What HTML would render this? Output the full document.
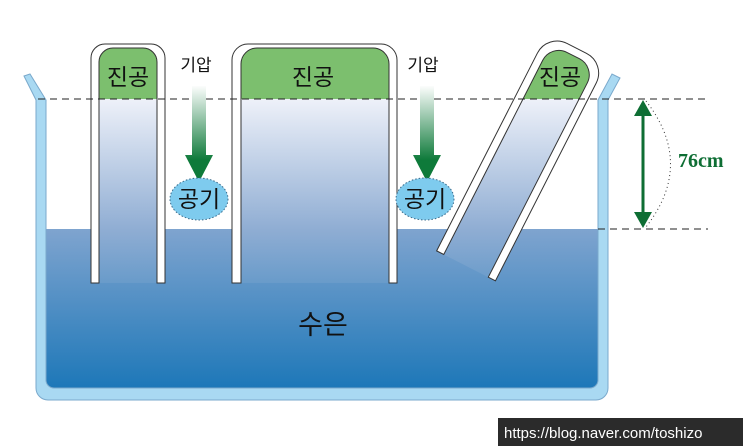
<!DOCTYPE html>
<html><head><meta charset="utf-8"><style>body{margin:0;background:#fff}svg{display:block}</style></head><body>
<svg width="743" height="446" viewBox="0 0 743 446" xmlns="http://www.w3.org/2000/svg" font-family="'Liberation Sans','Noto Sans CJK KR',sans-serif">
<defs>
<linearGradient id="w" x1="0" y1="229" x2="0" y2="390" gradientUnits="userSpaceOnUse"><stop offset="0" stop-color="#7fa4cf"/><stop offset="1" stop-color="#1c77b8"/></linearGradient>
<linearGradient id="t" x1="0" y1="99" x2="0" y2="390" gradientUnits="userSpaceOnUse"><stop offset="0" stop-color="#eef1f9"/><stop offset="0.45" stop-color="#8fadd3"/><stop offset="1" stop-color="#1c77b8"/></linearGradient>
<linearGradient id="a" x1="0" y1="85" x2="0" y2="160" gradientUnits="userSpaceOnUse"><stop offset="0" stop-color="#ffffff"/><stop offset="1" stop-color="#0e7a3a"/></linearGradient>
<clipPath id="tc"><path transform="translate(575,52) rotate(27)" d="M-25,240 V22 a18 18 0 0 1 18,-18 H7 a18 18 0 0 1 18,18 V240 Z"/></clipPath>
</defs>
<rect x="44" y="229" width="556" height="160" fill="url(#w)"/>
<path d="M24,76 L30,74 L46,100 V380 a8 8 0 0 0 8,8 H590 a8 8 0 0 0 8,-8 V100 L612,74 L620,78 L608,100 V388 a12 12 0 0 1 -12,12 H48 a12 12 0 0 1 -12,-12 V100 Z" fill="#a9d9f2" stroke="#7aa9cc" stroke-width="1"/>
<rect x="99" y="48" width="58" height="235" fill="url(#t)"/>
<path d="M99,99 V62 a14 14 0 0 1 14,-14 H143 a14 14 0 0 1 14,14 V99 Z" fill="#7cbf6e"/>
<path d="M91,283 V58 a14 14 0 0 1 14,-14 H151 a14 14 0 0 1 14,14 V283 H157 V62 a14 14 0 0 0 -14,-14 H113 a14 14 0 0 0 -14,14 V283 Z" fill="#fff" stroke="#333" stroke-width="1"/>
<rect x="241" y="48" width="148" height="235" fill="url(#t)"/>
<path d="M241,99 V64 a16 16 0 0 1 16,-16 H373 a16 16 0 0 1 16,16 V99 Z" fill="#7cbf6e"/>
<path d="M232,283 V60 a16 16 0 0 1 16,-16 H381 a16 16 0 0 1 16,16 V283 H389 V64 a16 16 0 0 0 -16,-16 H257 a16 16 0 0 0 -16,16 V283 Z" fill="#fff" stroke="#333" stroke-width="1"/>
<g clip-path="url(#tc)"><rect x="400" y="0" width="250" height="99" fill="#7cbf6e"/><rect x="400" y="99" width="250" height="300" fill="url(#t)"/></g>
<path transform="translate(575,52) rotate(27)" d="M-33,240 V18 a22 22 0 0 1 22,-22 H11 a22 22 0 0 1 22,22 V240 H25 V22 a18 18 0 0 0 -18,-18 H-7 a18 18 0 0 0 -18,18 V240 Z" fill="#fff" stroke="#333" stroke-width="1"/>
<line x1="38" y1="99" x2="708" y2="99" stroke="#222" stroke-dasharray="7,5" stroke-width="1"/>
<line x1="598" y1="229" x2="708" y2="229" stroke="#222" stroke-dasharray="7,5" stroke-width="1"/>
<path d="M192,86 H206 V155 H213 L199,182 L185,155 H192 Z" fill="url(#a)"/>
<path d="M420,86 H434 V155 H441 L427,182 L413,155 H420 Z" fill="url(#a)"/>
<ellipse cx="199" cy="199" rx="29" ry="21" fill="#7ecbee" stroke="#3a6a8a" stroke-dasharray="1.5,2"/>
<ellipse cx="425" cy="199" rx="29" ry="21" fill="#7ecbee" stroke="#3a6a8a" stroke-dasharray="1.5,2"/>
<g font-size="23" text-anchor="middle" fill="#111">
<text x="128" y="85">진공</text><text x="313" y="85">진공</text><text x="560" y="85">진공</text>
<text x="199" y="207">공기</text><text x="425" y="207">공기</text>
</g>
<text x="196" y="71" font-size="17" text-anchor="middle" fill="#111">기압</text>
<text x="423" y="71" font-size="17" text-anchor="middle" fill="#111">기압</text>
<text x="323" y="334" font-size="27" text-anchor="middle" fill="#111">수은</text>
<line x1="643" y1="110" x2="643" y2="218" stroke="#0e6e34" stroke-width="3"/>
<path d="M643,100 L652,116 H634 Z M643,228 L652,212 H634 Z" fill="#0e6e34"/>
<path d="M646,101 Q695,164 646,227" fill="none" stroke="#333" stroke-dasharray="1,3"/>
<text x="678" y="167" font-family="'Liberation Serif',serif" font-weight="bold" font-size="20" fill="#0e6e34">76cm</text>
<rect x="498" y="418" width="245" height="28" fill="#2b2b2b"/>
<text x="504" y="438" font-size="15" fill="#fff">https://blog.naver.com/toshizo</text>
</svg>
</body></html>
